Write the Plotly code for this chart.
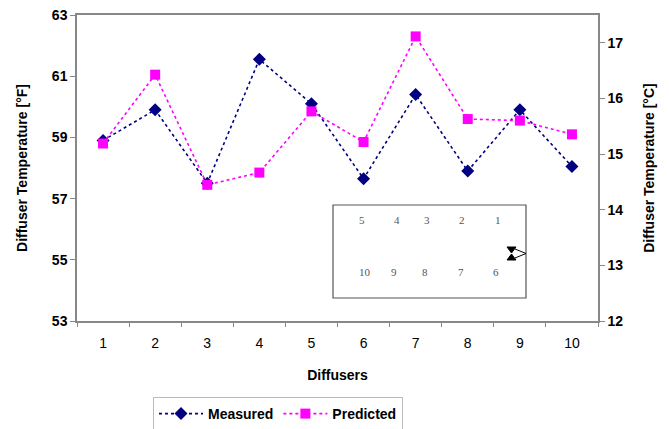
import plotly.graph_objects as go

diffusers = [1, 2, 3, 4, 5, 6, 7, 8, 9, 10]
measured = [58.9, 59.9, 57.5, 61.55, 60.1, 57.65, 60.4, 57.9, 59.9, 58.05]
predicted = [58.8, 61.05, 57.45, 57.85, 59.85, 58.85, 62.3, 59.6, 59.55, 59.1]
f_ticks = [53, 55, 57, 59, 61, 63]
c_ticks = [12, 13, 14, 15, 16, 17]
inset_top = ["5", "4", "3", "2", "1"]
inset_bottom = ["10", "9", "8", "7", "6"]

# the page body adds an 8px offset; work in screen pixels and compensate
OFF = 8
L, R, T, B = 77, 598, 15, 321
W, H = 669 - OFF, 429 - OFF


def px(x):
    return (x - L) / (R - L)


def py(y):
    return (B - y) / (B - T)


FONT = "Liberation Sans, Arial, sans-serif"

fig = go.Figure()
fig.add_trace(go.Scatter(
    x=diffusers, y=measured, name="Measured", mode="lines+markers",
    line=dict(color="#000080", width=1.6, dash="dot"),
    marker=dict(symbol="diamond", size=10, color="#000080"),
))
fig.add_trace(go.Scatter(
    x=diffusers, y=predicted, name="Predicted", mode="lines+markers",
    line=dict(color="#FF00FF", width=1.6, dash="dot"),
    marker=dict(symbol="square", size=10, color="#FF00FF"),
))
# invisible helper trace so the secondary (°C) axis is drawn
fig.add_trace(go.Scatter(
    x=diffusers, y=[(v - 32) * 5 / 9 for v in measured], yaxis="y2",
    mode="markers", marker=dict(opacity=0), showlegend=False, hoverinfo="skip",
))

axis_col = "#888888"
fig.update_layout(
    width=W, height=H,
    margin=dict(l=L - OFF, r=669 - R, t=T - OFF, b=429 - B, autoexpand=False),
    paper_bgcolor="white", plot_bgcolor="white",
    font=dict(family=FONT, size=14, color="black"),
    showlegend=True,
    legend=dict(
        orientation="h", x=px(153), y=py(397), xanchor="left", yanchor="top",
        bordercolor="#bbbbbb", borderwidth=1,
        font=dict(family=FONT, size=14, weight="bold"),
        itemwidth=44,
    ),
    xaxis=dict(
        type="linear", range=[0.5, 10.5], tickvals=diffusers, automargin=False,
        ticktext=[str(d) for d in diffusers],
        showgrid=False, zeroline=False, showline=True, linecolor=axis_col,
        linewidth=1.5, mirror=True, ticks="outside", ticklen=8,
        tickcolor="rgba(0,0,0,0)", tickfont=dict(size=14),
        title=dict(text="Diffusers", font=dict(size=14, weight="bold"), standoff=21),
        minor=dict(tickvals=[i + 0.5 for i in range(0, 11)], ticks="outside",
                   ticklen=4, tickcolor=axis_col),
    ),
    yaxis=dict(
        range=[53, 63], tickvals=f_ticks, showgrid=False, zeroline=False,
        showline=True, linecolor=axis_col, linewidth=1.5, mirror=True,
        automargin=False, ticklabeloverflow="allow",
        ticks="outside", ticklen=5, tickcolor=axis_col,
        tickfont=dict(size=14, weight="bold"),
        title=dict(text="Diffuser Temperature [°F]",
                   font=dict(size=14, weight="bold"), standoff=21),
    ),
    yaxis2=dict(
        range=[12, 17.5], tickvals=c_ticks, overlaying="y", side="right",
        showgrid=False, zeroline=False, showline=True, linecolor=axis_col,
        linewidth=1.5, ticks="outside", ticklen=5, tickcolor=axis_col,
        automargin=False, ticklabeloverflow="allow",
        tickfont=dict(size=14, weight="bold"),
        title=dict(text="Diffuser Temperature [°C]",
                   font=dict(size=14, weight="bold"), standoff=22),
    ),
)

# inset diagram box
fig.add_shape(type="rect", xref="paper", yref="paper",
              x0=px(333), x1=px(526), y0=py(298), y1=py(205),
              line=dict(color="#555555", width=1.2), fillcolor="white", layer="above")

top_x = [362, 397, 432, 467, 503]
bot_x = [365, 394, 430, 466, 501]
for lab, xx in zip(inset_top, top_x):
    fig.add_annotation(x=px(xx), y=py(228), xref="paper", yref="paper", text=lab,
                       showarrow=False, font=dict(family="Liberation Serif, serif",
                                                  size=11, color="#555555"))
for lab, xx in zip(inset_bottom, bot_x):
    fig.add_annotation(x=px(xx), y=py(280), xref="paper", yref="paper", text=lab,
                       showarrow=False, font=dict(family="Liberation Serif, serif",
                                                  size=11, color="#555555"))


def path(points, close=True):
    s = "M " + " L ".join(f"{px(a):.5f},{py(b):.5f}" for a, b in points)
    return s + (" Z" if close else "")


fig.add_shape(type="path", xref="paper", yref="paper",
              path=path([(507, 247), (516, 247), (511.5, 253)]),
              fillcolor="black", line=dict(color="black", width=1), layer="above")
fig.add_shape(type="path", xref="paper", yref="paper",
              path=path([(507, 260), (516, 260), (511.5, 254)]),
              fillcolor="black", line=dict(color="black", width=1), layer="above")
fig.add_shape(type="path", xref="paper", yref="paper",
              path=path([(515, 249), (526, 253.5), (515, 258)], close=False),
              line=dict(color="black", width=1), layer="above")

fig.write_html("out.html")
